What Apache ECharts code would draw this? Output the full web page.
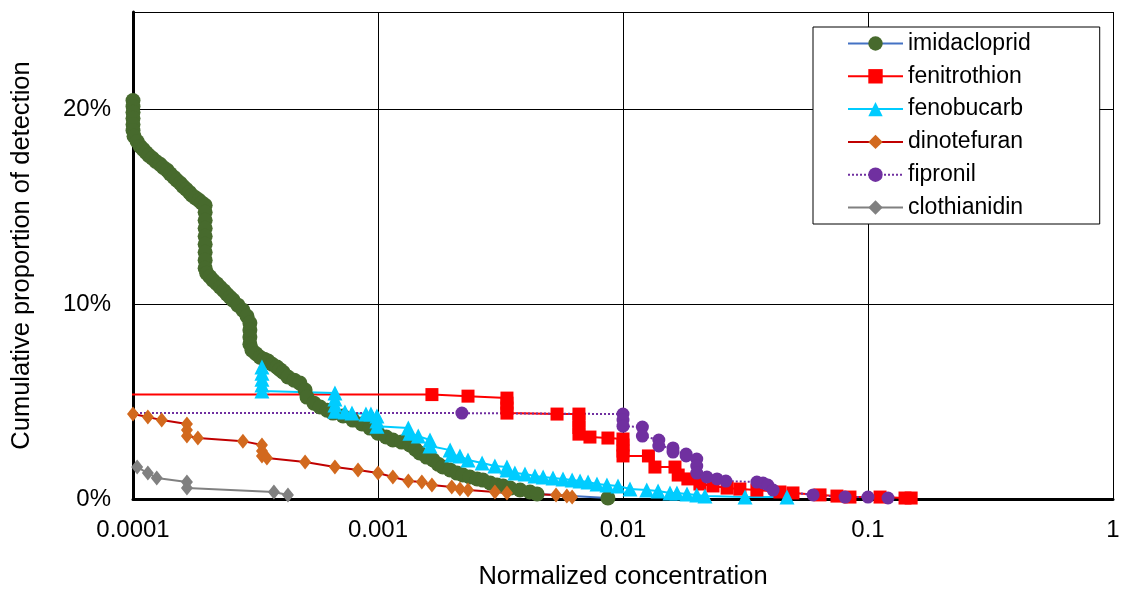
<!DOCTYPE html>
<html><head><meta charset="utf-8">
<script src="https://cdn.jsdelivr.net/npm/echarts@6/dist/echarts.min.js"></script>
<style>html,body{margin:0;padding:0;background:#fff}#c{width:1122px;height:589px}</style>
</head><body><div id="c"></div>
<script>
const seriesNames = ['imidacloprid','fenitrothion','fenobucarb','dinotefuran','fipronil','clothianidin'];
const xTickLabels = ['0.0001','0.001','0.01','0.1','1'];
const xAxisTitle = 'Normalized concentration';
const yAxisTitle = 'Cumulative proportion of detection';

// [normalized concentration, cumulative proportion (%)]
const imidacloprid = [[0.0001,20.46],[0.0001,20.15],[0.0001,19.85],[0.0001,19.54],[0.0001,19.23],[0.0001,18.92],[0.000101,18.62],[0.000104,18.35],[0.000107,18.10],[0.00011,17.95],[0.000113,17.79],[0.000116,17.64],[0.00012,17.49],[0.000124,17.33],[0.000129,17.18],[0.000133,17.02],[0.000138,16.87],[0.000142,16.69],[0.000147,16.51],[0.000151,16.36],[0.000156,16.21],[0.00016,16.05],[0.000165,15.90],[0.00017,15.74],[0.000174,15.59],[0.00018,15.46],[0.000186,15.33],[0.000191,15.2],[0.000197,15.08],[0.000197,14.72],[0.000197,14.31],[0.000197,13.90],[0.000197,13.49],[0.000197,13.08],[0.000197,12.67],[0.000197,12.26],[0.000197,11.85],[0.0002,11.59],[0.000206,11.41],[0.000212,11.23],[0.00022,11.05],[0.000227,10.87],[0.000235,10.69],[0.000242,10.51],[0.000249,10.36],[0.000256,10.21],[0.000268,9.95],[0.000281,9.69],[0.000292,9.38],[0.0003,9.03],[0.0003,8.67],[0.0003,8.31],[0.0003,7.95],[0.000306,7.64],[0.000318,7.46],[0.00033,7.28],[0.000343,7.18],[0.000356,7.08],[0.00037,6.92],[0.000387,6.77],[0.000398,6.64],[0.00041,6.51],[0.000429,6.26],[0.000455,6.1],[0.00048,5.95],[0.000504,5.59],[0.000513,5.23],[0.000548,4.92],[0.00058,4.72],[0.00062,4.56],[0.000655,4.41],[0.00072,4.26],[0.00079,4.05],[0.00086,3.85],[0.000928,3.64],[0.001,3.38],[0.00108,3.18],[0.00115,3.03],[0.00125,2.92],[0.00135,2.77],[0.00142,2.56],[0.00148,2.36],[0.00158,2.15],[0.00168,2.0],[0.00176,1.79],[0.00184,1.64],[0.00197,1.49],[0.0021,1.33],[0.00222,1.23],[0.00237,1.13],[0.00254,1.03],[0.00268,0.97],[0.00287,0.82],[0.00306,0.72],[0.00324,0.67],[0.00346,0.56],[0.0038,0.46],[0.00417,0.36],[0.00446,0.26],[0.00868,0.05]];
const fenitrothion = [[0.00001,5.36],[0.00166,5.36],[0.00233,5.28],[0.00336,5.18],[0.00336,4.92],[0.00336,4.67],[0.00336,4.41],[0.00538,4.36],[0.00661,4.36],[0.00661,4.0],[0.00661,3.67],[0.00661,3.33],[0.00733,3.18],[0.00868,3.13],[0.01,3.08],[0.01,2.77],[0.01,2.46],[0.01,2.21],[0.0127,2.21],[0.0135,1.64],[0.0163,1.64],[0.0168,1.23],[0.0184,1.03],[0.0206,0.77],[0.0233,0.67],[0.0266,0.56],[0.030,0.51],[0.0352,0.46],[0.0437,0.36],[0.0494,0.31],[0.0637,0.21],[0.0747,0.15],[0.0844,0.10],[0.112,0.10],[0.1416,0.05],[0.15,0.05]];
const fenobucarb = [[0.000336,6.77],[0.000336,6.46],[0.000336,6.15],[0.000336,5.85],[0.000336,5.54],[0.000667,5.44],[0.000667,5.13],[0.000667,4.82],[0.000667,4.51],[0.000733,4.46],[0.000783,4.41],[0.000893,4.36],[0.000936,4.36],[0.00099,4.26],[0.00099,4.0],[0.00099,3.74],[0.00133,3.64],[0.00135,3.38],[0.00146,3.23],[0.00163,3.03],[0.00163,2.72],[0.00197,2.51],[0.002,2.26],[0.00216,2.21],[0.00233,2.0],[0.00266,1.85],[0.003,1.69],[0.00336,1.64],[0.00336,1.49],[0.00362,1.33],[0.00398,1.28],[0.00437,1.18],[0.00472,1.13],[0.00518,1.08],[0.00569,1.03],[0.0062,0.97],[0.00668,0.92],[0.0072,0.87],[0.00783,0.77],[0.0086,0.72],[0.00954,0.67],[0.01068,0.51],[0.0125,0.46],[0.0139,0.41],[0.01555,0.31],[0.0166,0.31],[0.01825,0.26],[0.02,0.21],[0.0216,0.15],[0.0315,0.10],[0.0467,0.10]];
const dinotefuran = [[0.0001,4.36],[0.000115,4.21],[0.000131,4.05],[0.000166,3.85],[0.000166,3.54],[0.000166,3.23],[0.000184,3.13],[0.000281,2.97],[0.000336,2.77],[0.000336,2.46],[0.000336,2.21],[0.000352,2.10],[0.000504,1.90],[0.000667,1.64],[0.000829,1.49],[0.001,1.33],[0.00115,1.13],[0.00133,0.92],[0.00151,0.87],[0.00166,0.72],[0.002,0.62],[0.00216,0.51],[0.00233,0.46],[0.003,0.36],[0.00336,0.31],[0.00533,0.21],[0.0059,0.15],[0.0062,0.10]];
const fipronil = [[0.00001,4.41],[0.0022,4.41],[0.01,4.36],[0.01,4.05],[0.01,3.74],[0.012,3.69],[0.012,3.23],[0.014,3.03],[0.014,2.72],[0.016,2.62],[0.016,2.41],[0.0181,2.31],[0.0181,2.21],[0.02,2.05],[0.02,1.69],[0.02,1.33],[0.022,1.13],[0.0242,1.03],[0.0263,0.92],[0.0352,0.87],[0.0373,0.82],[0.039,0.72],[0.041,0.46],[0.0597,0.21],[0.0806,0.10],[0.1,0.10],[0.1207,0.05]];
const clothianidin = [[0.000104,1.64],[0.000115,1.33],[0.000125,1.08],[0.000166,0.87],[0.000166,0.56],[0.000376,0.36],[0.000429,0.21]];

const font = '"Liberation Sans", Arial, sans-serif';
const styles = [
  {symbol:'circle', size:15, fill:'#476A2D', line:'#4472C4', type:'solid', clip:false},
  {symbol:'rect', size:13, fill:'#FF0000', line:'#FF0000', type:'solid', clip:true},
  {symbol:'triangle', size:15, fill:'#00CCFF', line:'#00CCFF', type:'solid', clip:false},
  {symbol:'diamond', size:[12,15], fill:'#D2691E', line:'#C00000', type:'solid', clip:false},
  {symbol:'circle', size:13, fill:'#7030A0', line:'#7030A0', type:'dotted', clip:true},
  {symbol:'diamond', size:[12,15], fill:'#808080', line:'#808080', type:'solid', clip:false}
];
const allData = [imidacloprid, fenitrothion, fenobucarb, dinotefuran, fipronil, clothianidin];

const chart = echarts.init(document.getElementById('c'), null, {renderer:'canvas'});
chart.setOption({
  animation:false,
  backgroundColor:'#fff',
  textStyle:{fontFamily:font},
  grid:{left:133, right:9, top:12, bottom:90, outerBoundsMode:'none'},
  legend:{
    orient:'vertical', left:813, top:27,
    itemWidth:55, itemHeight:18, itemGap:9.8,
    padding:[5,69,5,34],
    borderColor:'#000', borderWidth:1, backgroundColor:'#fff',
    textStyle:{fontSize:23, fontFamily:font, color:'#000', lineHeight:16},
    data:seriesNames
  },
  xAxis:{
    type:'log', logBase:10, min:0.0001, max:1,
    name:xAxisTitle, nameLocation:'middle', nameGap:65,
    nameTextStyle:{fontSize:25.5, color:'#000', fontFamily:font},
    axisLine:{show:true, onZero:false, lineStyle:{color:'#000', width:3}},
    axisTick:{show:false},
    axisLabel:{fontSize:24, color:'#000', margin:19, fontFamily:font,
      formatter:v => xTickLabels[Math.round(Math.log10(v)) + 4]},
    splitLine:{show:true, lineStyle:{color:'#000', width:1}},
    minorSplitLine:{show:false}
  },
  yAxis:{
    type:'value', min:0, max:25, interval:10,
    name:yAxisTitle, nameLocation:'middle', nameGap:98,
    nameTextStyle:{fontSize:25.5, color:'#000', fontFamily:font},
    axisLine:{show:true, lineStyle:{color:'#000', width:3}},
    axisTick:{show:false},
    axisLabel:{fontSize:24, color:'#000', margin:22, fontFamily:font, formatter:'{value}%', showMaxLabel:false},
    splitLine:{show:true, lineStyle:{color:'#000', width:1}}
  },
  series: seriesNames.map((name, i) => ({
    name, type:'line', data:allData[i],
    symbol:styles[i].symbol, symbolSize:styles[i].size, showAllSymbol:true,
    clip:styles[i].clip,
    itemStyle:{color:styles[i].fill, borderWidth:0},
    lineStyle:{color:styles[i].line, width:2, type:styles[i].type},
    emphasis:{disabled:true}
  }))
});
</script></body></html>
